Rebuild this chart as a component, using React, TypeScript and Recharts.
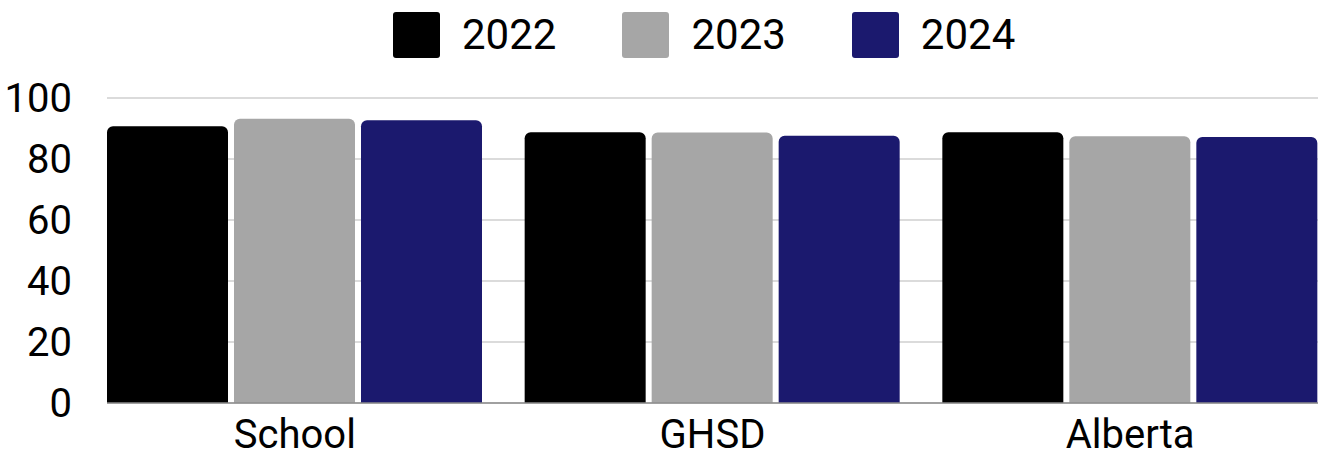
import React from "react";
import { BarChart, Bar, XAxis, YAxis, CartesianGrid, Legend } from "recharts";

const categories = ["School", "GHSD", "Alberta"];
const values2022 = [90.7, 88.8, 88.8];
const values2023 = [93.2, 88.7, 87.5];
const values2024 = [92.7, 87.6, 87.2];
const yTicks = [0, 20, 40, 60, 80, 100];

const series = [
  { key: "2022", color: "#000000" },
  { key: "2023", color: "#a6a6a6" },
  { key: "2024", color: "#1b196e" },
];

const data = categories.map((name, i) => ({
  name,
  "2022": values2022[i],
  "2023": values2023[i],
  "2024": values2024[i],
}));

const font = "Roboto, 'Noto Sans', sans-serif";

function LegendContent() {
  return (
    <div style={{ display: "flex", alignItems: "center", fontFamily: font, fontSize: 42, color: "#000" }}>
      {series.map((s, i) => (
        <div key={s.key} style={{ display: "flex", alignItems: "center", marginRight: i < series.length - 1 ? 66 : 0 }}>
          <div style={{ width: 47, height: 46, background: s.color, borderRadius: 3, marginRight: 22 }} />
          <span style={{ lineHeight: "46px" }}>{s.key}</span>
        </div>
      ))}
    </div>
  );
}

export default function App() {
  return (
    <div style={{ position: "absolute", left: 0, top: 0, background: "#fff" }}>
      <BarChart
        width={1322}
        height={459}
        data={data}
        margin={{ top: 52, right: 4, left: 0, bottom: 26 }}
        barCategoryGap={21}
        barGap={6}
      >
        <CartesianGrid vertical={false} stroke="#cfcfcf" strokeWidth={1.5} />
        <Legend
          verticalAlign="top"
          content={<LegendContent />}
          wrapperStyle={{ top: 12, left: 393, width: "auto" }}
        />
        <XAxis
          dataKey="name"
          height={30}
          padding={{ left: -21, right: -21 }}
          tickLine={false}
          tickSize={0}
          tickMargin={17}
          axisLine={{ stroke: "#8c8c8c", strokeWidth: 1.5 }}
          tick={{ fontSize: 40, fill: "#000", fontFamily: font }}
        />
        <YAxis
          domain={[0, 100]}
          ticks={yTicks}
          interval={0}
          width={107}
          tickLine={false}
          tickSize={0}
          tickMargin={35}
          axisLine={false}
          tick={{ fontSize: 40, fill: "#000", fontFamily: font }}
        />
        {series.map((s) => (
          <Bar key={s.key} dataKey={s.key} fill={s.color} radius={[6, 6, 0, 0]} isAnimationActive={false} />
        ))}
      </BarChart>
    </div>
  );
}
